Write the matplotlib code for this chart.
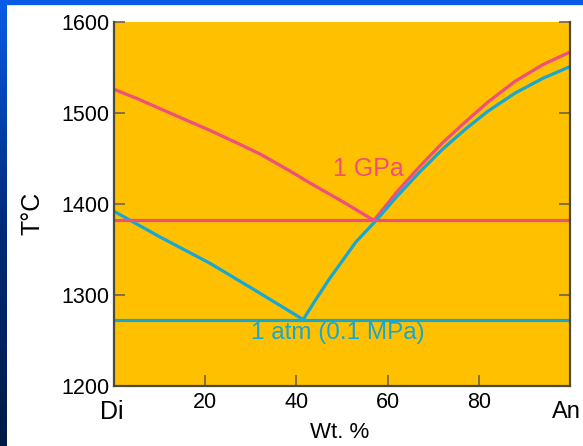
import numpy as np
import matplotlib
matplotlib.use("Agg")
import matplotlib.pyplot as plt
from matplotlib.patches import Rectangle

plt.rcParams["font.family"] = ["Liberation Sans", "DejaVu Sans"]

# liquidus curves (wt. % An, T in C)
gpa_left_x = [0, 5, 10, 15, 21, 27, 32, 38, 43, 50, 57]
gpa_left_t = [1526, 1516, 1505, 1494, 1481, 1467, 1455, 1438, 1423, 1403, 1382]
gpa_right_x = [57, 62, 67, 72, 77, 82, 88, 94, 100]
gpa_right_t = [1382, 1413, 1441, 1467, 1490, 1512, 1535, 1553, 1567]
gpa_eutectic = 1382

atm_left_x = [0, 10, 21, 31, 41.5]
atm_left_t = [1392, 1364, 1335, 1305, 1273]
atm_right_x = [41.5, 44, 47, 50, 53, 57.5, 62, 67, 72, 77, 82, 88, 94, 100]
atm_right_t = [1273, 1293, 1316, 1337, 1358, 1382, 1408, 1435, 1460, 1482, 1502, 1522, 1538, 1551]
atm_eutectic = 1273

xticks = [20, 40, 60, 80]
yticks = [1200, 1300, 1400, 1500, 1600]

PINK = "#EF4F7D"
BLUE = "#17A7D3"
ORANGE = "#FFC000"

W, H = 583, 446
fig = plt.figure(figsize=(W / 100, H / 100), dpi=100)

# blue slide border with gradient
bg = fig.add_axes([0, 0, 1, 1], zorder=-2)
grad = np.linspace(0, 1, 256).reshape(-1, 1)
cmap = matplotlib.colors.LinearSegmentedColormap.from_list("b", ["#0A5CE8", "#002A78", "#001A45"])
bg.imshow(grad, aspect="auto", cmap=cmap, extent=[0, 1, 0, 1])
bg.add_patch(Rectangle((7 / W, 0), 1, 1 - 5 / H, facecolor="white", edgecolor="none"))
bg.plot([7 / W, 1], [1 - 5 / H, 1 - 5 / H], color="#F3E7A0", lw=0.6)
bg.set_xlim(0, 1)
bg.set_ylim(0, 1)
bg.axis("off")

ax = fig.add_axes([114 / W, 60 / H, 456 / W, 364 / H])
ax.set_facecolor(ORANGE)

lw = 2.3
for xs, ts, c in [(gpa_left_x, gpa_left_t, PINK), (gpa_right_x, gpa_right_t, PINK),
                  (atm_left_x, atm_left_t, BLUE), (atm_right_x, atm_right_t, BLUE)]:
    ax.plot(xs, ts, color=c, lw=lw, solid_joinstyle="round", solid_capstyle="round")
ax.axhline(gpa_eutectic, color=PINK, lw=lw)
ax.axhline(atm_eutectic, color=BLUE, lw=lw)

ax.text(55.8, 1439, "1 GPa", color=PINK, fontsize=18, ha="center", va="center")
ax.text(49, 1258, "1 atm (0.1 MPa)", color=BLUE, fontsize=17.5, ha="center", va="center")

ax.set_xlim(0, 100)
ax.set_ylim(1200, 1600)
ax.set_xticks(xticks)
ax.set_yticks(yticks)
ax.tick_params(axis="both", direction="in", length=8, width=1.2, color="#6E6448",
               labelsize=15.5, pad=4)
ax.tick_params(axis="y", right=True, pad=3)
for s in ["left", "right", "bottom"]:
    ax.spines[s].set_color("#4A4A3A")
    ax.spines[s].set_linewidth(1.6)
ax.spines["top"].set_visible(False)

fig.text(112 / W, 1 - 412 / H, "Di", fontsize=18, ha="center", va="center")
fig.text(581 / W, 1 - 412 / H, "An", fontsize=17, ha="right", va="center")
fig.text(340 / W, 1 - 432 / H, "Wt. %", fontsize=16, ha="center", va="center")
fig.text(32 / W, 1 - 213 / H, "T°C", fontsize=18, ha="center", va="center", rotation=90)

fig.savefig("out.png", dpi=100)
